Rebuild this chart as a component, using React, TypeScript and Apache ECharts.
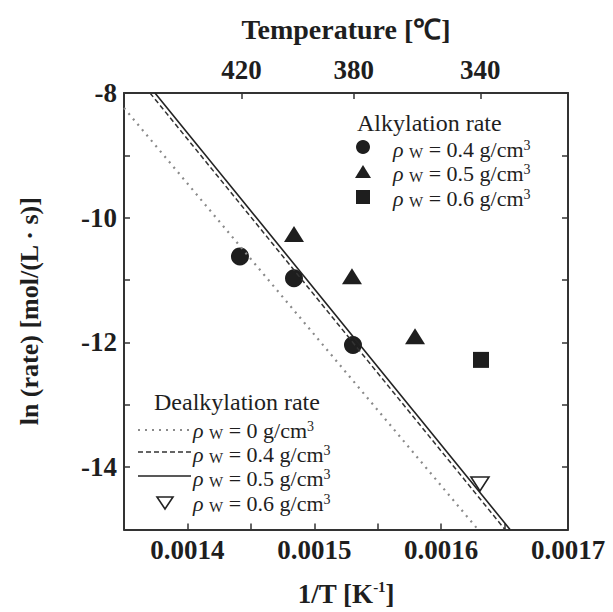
import React, { useEffect, useRef } from "react";
import * as echarts from "echarts";

// Axis ranges and ticks
const xMin = 0.00135;
const xMax = 0.0017;
const yMin = -15;
const yMax = -8;
const xLabelValues = [0.0014, 0.0015, 0.0016, 0.0017];
const xTickValues = [0.0014, 0.00145, 0.0015, 0.00155, 0.0016, 0.00165];
const yLabelValues = [-14, -12, -10, -8];
const tempLabels = [420, 380, 340]; // °C, top axis

// Alkylation rate (filled markers) [1/T, ln(rate)]
const alkyl04 = [
  [0.0014414, -10.62],
  [0.001484, -10.97],
  [0.0015305, -12.04],
];
const alkyl05 = [
  [0.001484, -10.26],
  [0.0015297, -10.94],
  [0.0015794, -11.9],
];
const alkyl06 = [[0.0016314, -12.28]];

// Dealkylation rate (lines + open marker)
const dealk00 = [
  [0.00135, -8.24],
  [0.001629, -15],
];
const dealk04 = [
  [0.0013705, -8],
  [0.0016503, -15],
];
const dealk05 = [
  [0.0013744, -8],
  [0.0016543, -15],
];
const dealk06 = [[0.0016306, -14.27]];

const FONT = '"Liberation Serif", "Times New Roman", serif';
const INK = "#1e1e1e";

const rhoRich = {
  r: { fontFamily: FONT, fontSize: 22, fontStyle: "italic", lineHeight: 20, verticalAlign: "middle", fill: INK },
  s: { fontFamily: FONT, fontSize: 15, lineHeight: 14, verticalAlign: "bottom", fill: INK },
  t: { fontFamily: FONT, fontSize: 22, lineHeight: 20, verticalAlign: "middle", fill: INK },
  p: { fontFamily: FONT, fontSize: 14, lineHeight: 11, verticalAlign: "top", fill: INK },
};

function rhoText(v: string) {
  return `{r|ρ} {s|W}{t| = ${v} g/cm}{p|3}`;
}

function legendRow(x: number, y: number, v: string) {
  return {
    type: "text",
    x,
    y,
    style: {
      text: rhoText(v),
      rich: rhoRich,
      fontFamily: FONT,
      fontSize: 22,
      verticalAlign: "middle",
      align: "left",
      fill: INK,
    },
    z: 10,
  };
}

export default function App() {
  const ref = useRef<HTMLDivElement>(null);
  useEffect(() => {
    if (!ref.current) return;
    const chart = echarts.init(ref.current, null, { renderer: "svg" });

    const axisLine = { show: true, lineStyle: { color: "#333", width: 2 } };
    const tickStyle = { color: "#333", width: 1.5 };
    const labelStyle = { fontFamily: FONT, fontWeight: "bold", fontSize: 27, color: INK };

    const option: any = {
      animation: false,
      backgroundColor: "#fff",
      grid: { left: 124, top: 93, right: 45, bottom: 79, containLabel: false },
      xAxis: [
        {
          type: "value",
          position: "bottom",
          min: xMin,
          max: xMax,
          axisLine,
          splitLine: { show: false },
          axisTick: { show: true, inside: true, length: 6, lineStyle: tickStyle, customValues: xTickValues },
          axisLabel: {
            ...labelStyle,
            margin: 7,
            customValues: xLabelValues,
            formatter: (v: number) => v.toFixed(4),
          },
          name: "{t|1/T [K}{p|-1}{t|]}",
          nameLocation: "middle",
          nameGap: 50,
          nameTextStyle: {
            rich: {
              t: { fontFamily: FONT, fontWeight: "bold", fontSize: 27, lineHeight: 28, verticalAlign: "middle", color: INK },
              p: { fontFamily: FONT, fontWeight: "bold", fontSize: 15, lineHeight: 15, verticalAlign: "top", color: INK },
            },
          },
        },
        {
          type: "value",
          position: "top",
          min: xMin,
          max: xMax,
          axisLine,
          splitLine: { show: false },
          axisTick: {
            show: true,
            inside: true,
            length: 6,
            lineStyle: tickStyle,
            customValues: tempLabels.map((t) => 1 / (t + 273.15)),
          },
          axisLabel: {
            ...labelStyle,
            margin: 10,
            customValues: tempLabels.map((t) => 1 / (t + 273.15)),
            formatter: (v: number) => String(Math.round(1 / v - 273.15)),
          },
          name: "Temperature [℃]",
          nameLocation: "middle",
          nameGap: 50,
          nameTextStyle: { fontFamily: FONT, fontWeight: "bold", fontSize: 28, color: INK },
        },
      ],
      yAxis: [
        {
          type: "value",
          position: "left",
          min: yMin,
          max: yMax,
          interval: 1,
          axisLine,
          splitLine: { show: false },
          axisTick: { show: true, inside: true, length: 6, lineStyle: tickStyle },
          axisLabel: { ...labelStyle, margin: 7, customValues: yLabelValues },
          name: "ln (rate) [mol/(L · s)]",
          nameLocation: "middle",
          nameGap: 82,
          nameTextStyle: { fontFamily: FONT, fontWeight: "bold", fontSize: 26, color: INK },
        },
        {
          type: "value",
          position: "right",
          min: yMin,
          max: yMax,
          interval: 1,
          axisLine,
          splitLine: { show: false },
          axisTick: { show: true, inside: true, length: 6, lineStyle: tickStyle },
          axisLabel: { show: false },
        },
      ],
      series: [
        {
          type: "line",
          data: dealk00,
          showSymbol: false,
          lineStyle: { color: "#8a8a8a", width: 2.2, type: [2, 5] },
        },
        {
          type: "line",
          data: dealk04,
          showSymbol: false,
          lineStyle: { color: "#333", width: 1.5, type: [5, 3] },
        },
        {
          type: "line",
          data: dealk05,
          showSymbol: false,
          lineStyle: { color: "#222", width: 1.6, type: "solid" },
        },
        {
          type: "scatter",
          data: dealk06,
          symbol: "triangle",
          symbolRotate: 180,
          symbolSize: [18, 14],
          itemStyle: { color: "#fff", borderColor: "#222", borderWidth: 1.6, opacity: 1 },
        },
        {
          type: "scatter",
          data: alkyl04,
          symbol: "circle",
          symbolSize: 18,
          itemStyle: { color: INK, opacity: 1 },
        },
        {
          type: "scatter",
          data: alkyl05,
          symbol: "triangle",
          symbolSize: [20, 16],
          itemStyle: { color: INK, opacity: 1 },
        },
        {
          type: "scatter",
          data: alkyl06,
          symbol: "rect",
          symbolSize: 16,
          itemStyle: { color: INK, opacity: 1 },
        },
      ],
      graphic: [
        // Alkylation legend
        {
          type: "text",
          x: 357,
          y: 123,
          style: { text: "Alkylation rate", fontFamily: FONT, fontSize: 24, fill: INK, verticalAlign: "middle" },
        },
        { type: "circle", shape: { cx: 363, cy: 147, r: 7 }, style: { fill: INK } },
        {
          type: "polygon",
          shape: { points: [[363, 165], [371, 178], [355, 178]] },
          style: { fill: INK },
        },
        { type: "rect", shape: { x: 356, y: 190, width: 14, height: 14 }, style: { fill: INK } },
        legendRow(393, 149, "0.4"),
        legendRow(393, 173, "0.5"),
        legendRow(393, 198, "0.6"),
        // Dealkylation legend
        {
          type: "text",
          x: 154,
          y: 402,
          style: { text: "Dealkylation rate", fontFamily: FONT, fontSize: 24, fill: INK, verticalAlign: "middle" },
        },
        {
          type: "line",
          shape: { x1: 138, y1: 430, x2: 191, y2: 430 },
          style: { stroke: "#8a8a8a", lineWidth: 2.2, lineDash: [2, 5] },
        },
        {
          type: "line",
          shape: { x1: 138, y1: 452, x2: 191, y2: 452 },
          style: { stroke: "#333", lineWidth: 1.5, lineDash: [5, 3] },
        },
        {
          type: "line",
          shape: { x1: 138, y1: 476, x2: 191, y2: 476 },
          style: { stroke: "#222", lineWidth: 1.6 },
        },
        {
          type: "polygon",
          shape: { points: [[157, 497], [173, 497], [165, 509]] },
          style: { fill: "#fff", stroke: "#222", lineWidth: 1.6 },
        },
        legendRow(193, 430, "0"),
        legendRow(193, 454, "0.4"),
        legendRow(193, 478, "0.5"),
        legendRow(193, 503, "0.6"),
      ],
    };

    chart.setOption(option);
    return () => chart.dispose();
  }, []);

  return (
    <div
      ref={ref}
      style={{ position: "fixed", left: 0, top: 0, width: 613, height: 612, background: "#fff" }}
    />
  );
}
